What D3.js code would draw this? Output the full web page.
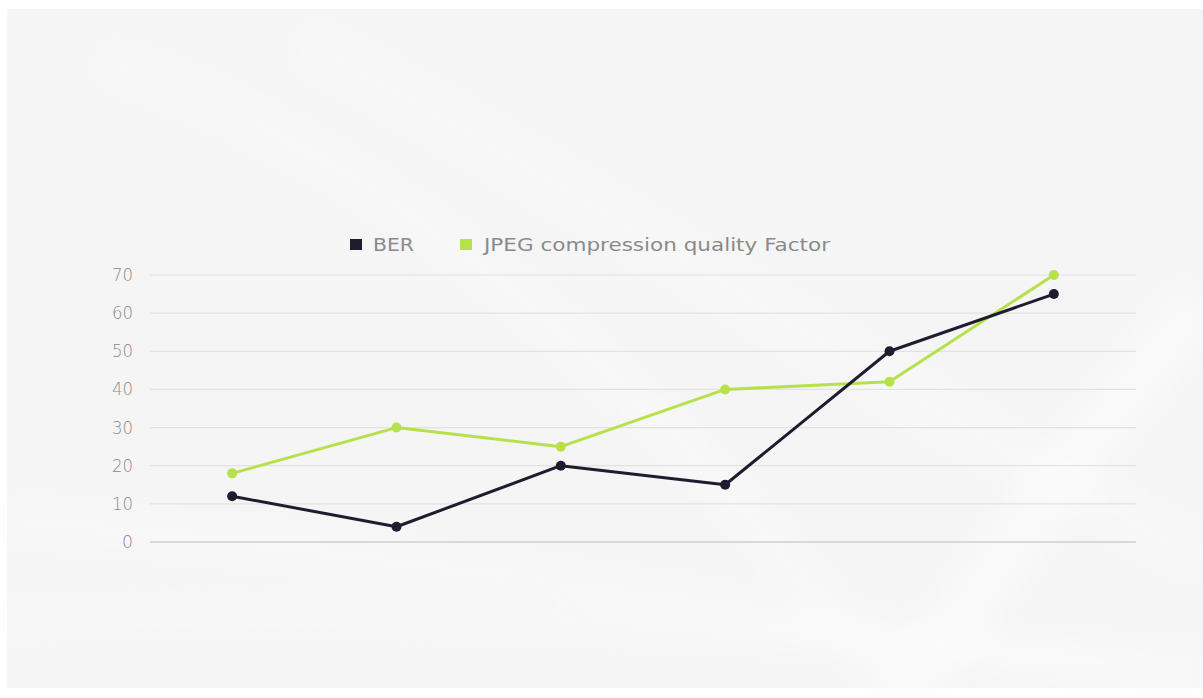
<!DOCTYPE html>
<html><head><meta charset="utf-8">
<script src="https://cdn.jsdelivr.net/npm/d3@7"></script>
<style>html,body{margin:0;padding:0;background:#fff;}svg{display:block;}</style>
</head><body>
<svg id="chart" width="1203" height="698"></svg>
<script>
const categories = ["1", "2", "3", "4", "5", "6"];
const berValues = [12, 4, 20, 15, 50, 65];
const jpegValues = [18, 30, 25, 40, 42, 70];
const yTicks = [0, 10, 20, 30, 40, 50, 60, 70];
const seriesNames = ["BER", "JPEG compression quality Factor"];
const seriesColors = ["#1d1d2f", "#b6e14a"];

const svg = d3.select("#chart");
const W = 1203, H = 698;

// background panel
const defs = svg.append("defs");
const blur = defs.append("filter").attr("id", "blur").attr("x", "-20%").attr("y", "-20%").attr("width", "140%").attr("height", "140%");
blur.append("feGaussianBlur").attr("stdDeviation", 12);
svg.append("rect").attr("x", 0).attr("y", 0).attr("width", W).attr("height", H).attr("fill", "#fff");
svg.append("rect").attr("x", 7).attr("y", 9).attr("width", W - 7).attr("height", 679).attr("fill", "#f5f5f5");
const sw = svg.append("g").attr("filter", "url(#blur)").attr("fill", "none").attr("stroke", "#fcfcfc");
sw.append("path").attr("d", "M100,60 C300,120 600,300 900,700").attr("stroke-width", 40).attr("opacity", 0.5);
sw.append("path").attr("d", "M0,520 C300,540 700,600 1203,690").attr("stroke-width", 40).attr("opacity", 0.5);
sw.append("path").attr("d", "M0,620 C400,600 800,640 1203,660").attr("stroke-width", 30).attr("opacity", 0.5);
sw.append("path").attr("d", "M1203,300 C1100,420 1000,560 900,700").attr("stroke-width", 60).attr("opacity", 0.6);
sw.append("path").attr("d", "M300,40 C600,200 900,400 1203,560").attr("stroke-width", 50).attr("opacity", 0.35);

const x = d3.scalePoint().domain(categories).range([150, 1136]).padding(0.5);
const y = d3.scaleLinear().domain([0, 70]).range([542, 275]);

// gridlines
const grid = svg.append("g");
grid.selectAll("line").data(yTicks).join("line")
  .attr("x1", 150).attr("x2", 1136)
  .attr("y1", d => y(d)).attr("y2", d => y(d))
  .attr("stroke", d => d === 0 ? "#cfcfcf" : "#e2e2e2")
  .attr("stroke-width", d => d === 0 ? 1.6 : 1.2);

// y axis labels
const yAxis = d3.axisLeft(y).tickValues(yTicks).tickSize(0).tickPadding(0);
const ya = svg.append("g").attr("transform", "translate(133,0)").call(yAxis);
ya.select(".domain").remove();
ya.selectAll("text").attr("font-family", "'DejaVu Sans', sans-serif")
  .attr("font-size", 17).attr("fill", "#8a8a8a").attr("font-weight", 300)
  .attr("textLength", 21).attr("lengthAdjust", "spacingAndGlyphs");
ya.selectAll("text").filter(d => d === 0).attr("textLength", 11);

// lines
const data = [berValues, jpegValues];
const lineGen = d3.line().x((d, i) => x(categories[i])).y(d => y(d));
[1, 0].forEach(s => {
  svg.append("path").datum(data[s]).attr("d", lineGen)
    .attr("fill", "none").attr("stroke", seriesColors[s]).attr("stroke-width", 3)
    .attr("stroke-linejoin", "round");
  svg.append("g").selectAll("circle").data(data[s]).join("circle")
    .attr("cx", (d, i) => x(categories[i])).attr("cy", d => y(d))
    .attr("r", 5).attr("fill", seriesColors[s]);
});

// legend
const leg = svg.append("g").attr("font-family", "'DejaVu Sans', sans-serif").attr("font-size", 18).attr("fill", "#8a8a8a");
const legItems = [
  {sx: 350, tx: 373, w: 41},
  {sx: 460, tx: 484, w: 346}
];
legItems.forEach((it, i) => {
  leg.append("rect").attr("x", it.sx).attr("y", 239).attr("width", 12).attr("height", 11).attr("fill", seriesColors[i]);
  leg.append("text").attr("x", it.tx).attr("y", 251).attr("textLength", it.w).attr("lengthAdjust", "spacingAndGlyphs")
    .text(seriesNames[i]);
});
</script>
</body></html>
